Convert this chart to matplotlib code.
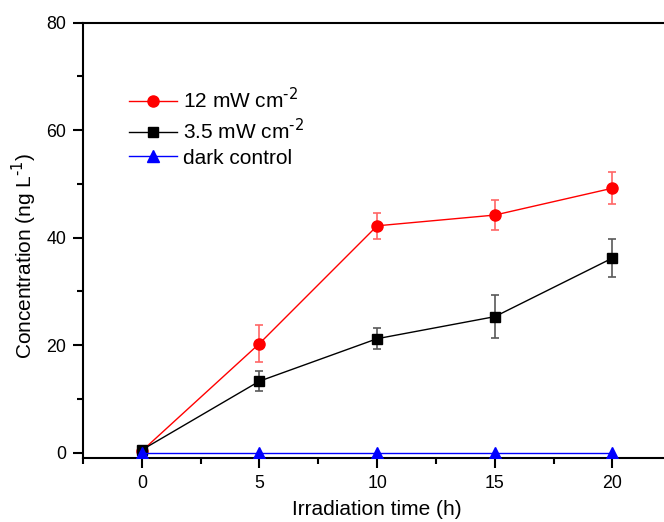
import matplotlib.pyplot as plt
from matplotlib.lines import Line2D
from matplotlib.ticker import MultipleLocator

plt.rcParams['font.family'] = ['Liberation Sans', 'DejaVu Sans']

# data
time_h = [0, 5, 10, 15, 20]
conc_12 = [0.3, 20.3, 42.2, 44.2, 49.2]
err_12 = [0.3, 3.4, 2.4, 2.8, 3.0]
conc_35 = [0.5, 13.3, 21.2, 25.3, 36.2]
err_35 = [0.4, 1.8, 1.9, 4.0, 3.5]
conc_dark = [0, 0, 0, 0, 0]
labels = ['12 mW cm$^{\\text{-}2}$', '3.5 mW cm$^{\\text{-}2}$', 'dark control']

fig = plt.figure(figsize=(6.64, 5.22), dpi=100)
# right edge of the axes sits just past the figure, like the cropped original
ax = fig.add_axes([0.125, 0.1226, 0.886, 0.834])

ax.errorbar(time_h, conc_12, yerr=err_12, color='red', ecolor=(1, 0.4, 0.4),
            elinewidth=1.2, capsize=3, capthick=1.2, lw=1, marker='o', ms=8,
            zorder=3)
ax.errorbar(time_h, conc_35, yerr=err_35, color='black', ecolor=(0.35, 0.35, 0.35),
            elinewidth=1.2, capsize=3, capthick=1.2, lw=1, marker='s', ms=7,
            zorder=3)
ax.plot(time_h, conc_dark, color='blue', lw=1, marker='^', ms=8.5, zorder=4)

ax.set_xlim(-2.5, 22.5)
ax.set_ylim(-1, 80)
ax.xaxis.set_major_locator(MultipleLocator(5))
ax.xaxis.set_minor_locator(MultipleLocator(2.5))
ax.yaxis.set_major_locator(MultipleLocator(20))
ax.yaxis.set_minor_locator(MultipleLocator(10))
ax.tick_params(which='both', direction='out', width=1.5, labelsize=12.8)
ax.tick_params(which='major', length=7, pad=5)
ax.tick_params(which='minor', length=4)
for s in ax.spines.values():
    s.set_linewidth(1.5)

ax.set_xlabel('Irradiation time (h)', fontsize=15)
ax.set_ylabel('Concentration (ng L$^{\\text{-}1}$)', fontsize=15)
ax.xaxis.set_label_coords(0.5, -0.097)
ax.yaxis.set_label_coords(-0.074, 0.464)

handles = [
    Line2D([], [], color='red', lw=1, marker='o', ms=8),
    Line2D([], [], color='black', lw=1, marker='s', ms=7),
    Line2D([], [], color='blue', lw=1, marker='^', ms=8.5),
]
ax.legend(handles, labels, loc='upper left', bbox_to_anchor=(0.078, 0.852),
          frameon=False, fontsize=15, handlelength=2.3, handletextpad=0.3,
          labelspacing=0.27, borderpad=0, borderaxespad=0)

fig.savefig('out.png', dpi=100)
